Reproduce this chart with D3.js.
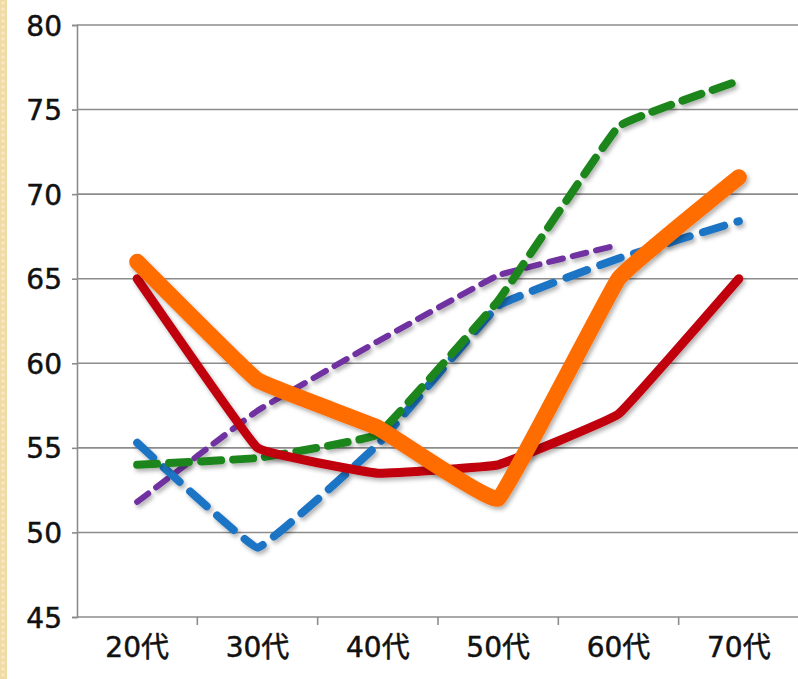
<!DOCTYPE html>
<html>
<head>
<meta charset="utf-8">
<script src="https://cdn.jsdelivr.net/npm/d3@7"></script>
<style>
  body { margin: 0; background: #fff; }
  svg { display: block; }
  .tick text { font-family: "DejaVu Sans", "Noto Sans CJK JP", sans-serif; fill: #111; stroke: #111; stroke-width: 0.5; }
</style>
</head>
<body>
<script>
// chart data
var categories = ["20代", "30代", "40代", "50代", "60代", "70代"];
var yTicks = [45, 50, 55, 60, 65, 70, 75, 80];

var redSeries    = [65, 55, 53.5, 54, 57, 65];
var orangeSeries = [66, 59, 56.2, 52, 65, 71];
var greenSeries  = [54, 54.4, 55.8, 63.7, 74, 76.7];
var blueSeries   = [55.3, 49.1, 55.2, 63.4, 66.2, 68.4];
var purpleSeries = [51.8, 57.2, 61.3, 65.2, 67, null];

var svgWidth = 798;
var svgHeight = 679;

var svg = d3.select("body")
  .append("svg")
  .attr("width", svgWidth)
  .attr("height", svgHeight);

var defs = svg.append("defs");

// dotted beige strip on the left
var pat = defs.append("pattern")
  .attr("id", "dots")
  .attr("width", 6)
  .attr("height", 6)
  .attr("patternUnits", "userSpaceOnUse");
pat.append("rect").attr("width", 6).attr("height", 6).attr("fill", "#eedba6");
pat.append("rect").attr("x", 1.5).attr("y", 1.5).attr("width", 3).attr("height", 3)
  .attr("fill", "#f6e9c6");

svg.append("rect")
  .attr("x", 0).attr("y", 0)
  .attr("width", 7).attr("height", svgHeight)
  .attr("fill", "url(#dots)");

// soft shadow under the lines
var shadow = defs.append("filter")
  .attr("id", "shadow")
  .attr("x", "-10%").attr("y", "-10%")
  .attr("width", "120%").attr("height", "120%");
shadow.append("feDropShadow")
  .attr("dx", 2).attr("dy", 3)
  .attr("stdDeviation", 2)
  .attr("flood-color", "#000")
  .attr("flood-opacity", 0.3);

// scales
var xScale = d3.scaleBand()
  .domain(categories)
  .range([77, 799])
  .padding(0);

var yScale = d3.scaleLinear()
  .domain([45, 80])
  .range([617, 25]);

var xMid = function(c) { return xScale(c) + xScale.bandwidth() / 2; };

// grid lines
svg.append("g")
  .selectAll("line")
  .data(yTicks)
  .enter()
  .append("line")
  .attr("x1", 77)
  .attr("x2", 798)
  .attr("y1", d => yScale(d))
  .attr("y2", d => yScale(d))
  .attr("stroke", "#8c8c8c")
  .attr("stroke-width", 1.6);

// y axis
var leftAxis = d3.axisLeft(yScale)
  .tickValues(yTicks)
  .tickSize(5)
  .tickPadding(10);

var yAxis = svg.append("g")
  .attr("transform", "translate(77, 0)")
  .call(leftAxis);
yAxis.select(".domain").attr("stroke", "#8c8c8c").attr("stroke-width", 1.6);
yAxis.selectAll(".tick line").attr("stroke", "#8c8c8c").attr("stroke-width", 1.6);
yAxis.selectAll(".tick text").attr("font-size", 28).attr("dy", "0.36em");

// x axis
var bottomAxis = d3.axisBottom(xScale)
  .tickSize(0)
  .tickPadding(20);

var xAxis = svg.append("g")
  .attr("transform", "translate(0, 617)")
  .call(bottomAxis);
xAxis.select(".domain").remove();
xAxis.selectAll(".tick text").attr("font-size", 28);

// tick marks at the category boundaries
svg.append("g")
  .selectAll("line")
  .data(categories.slice(1))
  .enter()
  .append("line")
  .attr("x1", d => xScale(d))
  .attr("x2", d => xScale(d))
  .attr("y1", 617)
  .attr("y2", 625)
  .attr("stroke", "#8c8c8c")
  .attr("stroke-width", 1.6);

// series, drawn bottom to top
var seriesList = [
  { values: purpleSeries, color: "#7030a0", width: 6, dash: "14,10" },
  { values: blueSeries,   color: "#1f74c4", width: 8, dash: "22,14" },
  { values: greenSeries,  color: "#1a861a", width: 8, dash: "20,12" },
  { values: redSeries,    color: "#c0000e", width: 9, dash: null },
  { values: orangeSeries, color: "#ff6c00", width: 16, dash: null }
];

var line = d3.line()
  .defined(d => d.v !== null)
  .x(d => xMid(d.c))
  .y(d => yScale(d.v))
  .curve(d3.curveCardinal.tension(0.8));

seriesList.forEach(function(s) {
  var pts = categories.map(function(c, i) { return { c: c, v: s.values[i] }; });
  svg.append("path")
    .datum(pts)
    .attr("d", line)
    .attr("fill", "none")
    .attr("stroke", s.color)
    .attr("stroke-width", s.width)
    .attr("stroke-linecap", "round")
    .attr("stroke-linejoin", "round")
    .attr("stroke-dasharray", s.dash)
    .attr("filter", "url(#shadow)");
});
</script>
</body>
</html>
